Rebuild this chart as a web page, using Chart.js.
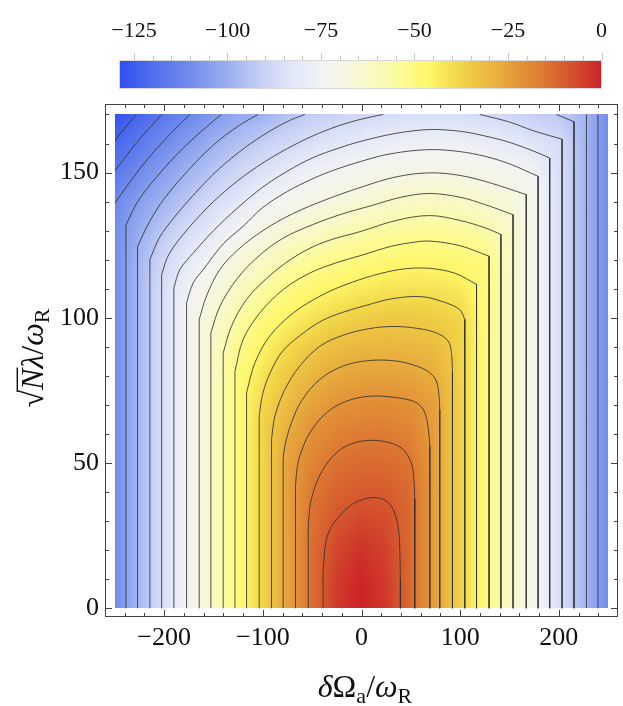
<!DOCTYPE html>
<html lang="en">
<head>
<meta charset="UTF-8">
<title>Density plot with contours</title>
<script src="https://cdn.jsdelivr.net/npm/chart.js"></script>
<style>
  html, body { margin: 0; padding: 0; background: #fff; }
  #wrap { position: relative; width: 623px; height: 706px; }
  #wrap canvas { position: absolute; left: 0; top: 0; }
</style>
</head>
<body>
<div id="wrap">
  <canvas id="mainChart" width="623" height="706"></canvas>
  <canvas id="barChart" width="623" height="100"></canvas>
</div>
<script>
// axis ticks
const xTicks = [-200, -100, 0, 100, 200];
const yTicks = [0, 50, 100, 150];
const cbarTicks = [-125, -100, -75, -50, -25, 0];
const cbarMin = -129;
const cbarMax = 0;

// surface values, one row per y
const gridX = [-250, -225, -200, -175, -150, -125, -100, -75, -50, -25, 0, 25, 50, 75, 100, 125, 150, 175, 200, 225, 250];
const gridY = [0, 10, 20, 30, 40, 50, 60, 70, 80, 90, 100, 110, 120, 130, 140, 150, 160, 170];
const zY0   = [-110, -97.7, -85.6, -73.4, -61.4, -49.2, -37.1, -24.9, -13.4, -3.7, 0, -3.7, -13, -24.5, -36.7, -49, -61.3, -73, -85.4, -97.6, -110];
const zY10  = [-110, -97.7, -85.6, -73.4, -61.4, -49.2, -37.1, -24.9, -13.4, -4.3, -0.6, -4.1, -13, -24.5, -36.7, -49, -61.3, -73, -85.4, -97.6, -110];
const zY20  = [-110, -97.7, -85.6, -73.4, -61.4, -49.2, -37.1, -24.9, -13.4, -5.9, -2.6, -5.3, -13, -24.5, -36.7, -49, -61.3, -73, -85.4, -97.6, -110];
const zY30  = [-110, -97.7, -85.6, -73.4, -61.4, -49.2, -37.1, -24.9, -14.3, -8.7, -5.8, -7.2, -13, -24.5, -36.7, -49, -61.3, -73, -85.4, -97.6, -110];
const zY40  = [-110, -97.7, -85.6, -73.4, -61.4, -49.2, -37.1, -24.9, -15.4, -11.5, -9.8, -9.9, -13, -24.5, -36.7, -49, -61.3, -73, -85.4, -97.6, -110];
const zY50  = [-110, -97.7, -85.6, -73.4, -61.4, -49.2, -37.1, -24.9, -18, -14.1, -12.9, -12.9, -14.9, -24.5, -36.7, -49, -61.3, -73, -85.4, -97.6, -110];
const zY60  = [-110, -97.7, -85.6, -73.4, -61.4, -49.2, -37.1, -27.2, -20.6, -17.5, -16.2, -16.1, -17.8, -24.5, -36.7, -49, -61.3, -73, -85.4, -97.6, -110];
const zY70  = [-110, -97.7, -85.6, -73.4, -61.4, -49.2, -38.2, -30.7, -24.6, -21.3, -20.2, -20, -20.7, -24.5, -36.7, -49, -61.3, -73, -85.4, -97.6, -110];
const zY80  = [-110, -97.7, -85.6, -73.4, -61.4, -49.2, -41.3, -34.5, -29.2, -26, -24.8, -24.5, -25.2, -27.5, -36.7, -49, -61.3, -73, -85.4, -97.6, -110];
const zY90  = [-110, -97.7, -85.6, -73.4, -61.4, -52.6, -45.3, -39, -34.6, -31.1, -29.8, -29.4, -29.8, -31.2, -36.7, -49, -61.3, -73, -85.4, -97.6, -110];
const zY100 = [-110, -97.7, -85.6, -73.4, -64, -56.5, -49.8, -45.2, -41.2, -38.1, -36, -35, -34.8, -35.7, -37.9, -49, -61.3, -73, -85.4, -97.6, -110];
const zY110 = [-110, -97.7, -85.6, -76.2, -68.1, -61.2, -55.5, -50.7, -47.5, -45, -42.9, -41.5, -40.8, -41.2, -42.8, -49, -61.3, -73, -85.4, -97.6, -110];
const zY120 = [-110, -97.7, -88.3, -80.8, -74.3, -66.8, -61.6, -57.2, -54, -51.7, -49.9, -48.1, -47.1, -47.1, -48.2, -49.7, -61.3, -73, -85.4, -97.6, -110];
const zY130 = [-110, -100.3, -93.1, -86.4, -81, -75, -69, -64.7, -61.5, -59.1, -57.1, -55.3, -54, -53.7, -54.6, -56.4, -61.3, -73, -85.4, -97.6, -110];
const zY140 = [-111.3, -104.6, -98.5, -92.7, -87, -82.3, -76.7, -72.6, -69.9, -67.3, -64.9, -63, -61.5, -60.9, -61.8, -63.8, -65.9, -73, -85.4, -97.6, -110];
const zY150 = [-116.7, -110.3, -104.1, -98.4, -93.3, -88.7, -84.6, -80.6, -76.8, -74.2, -72.4, -70.8, -69.7, -69.2, -69.7, -71.1, -72.9, -75.3, -85.4, -97.6, -110];
const zY160 = [-122.4, -116.1, -110.3, -104.8, -99.4, -95.1, -91.2, -88.1, -85, -82.4, -80.3, -78.6, -77.4, -76.9, -77.4, -78.8, -80.7, -83.3, -86.5, -97.6, -110];
const zY170 = [-128.2, -122.1, -116.7, -111.3, -106.7, -101.6, -99.4, -94.5, -92.3, -90.1, -88.2, -86.9, -85.8, -85.7, -86.1, -87.3, -89, -91.4, -93, -97.6, -110];
const gridZ = [zY0, zY10, zY20, zY30, zY40, zY50, zY60, zY70, zY80, zY90, zY100, zY110, zY120, zY130, zY140, zY150, zY160, zY170];

// contour lines (levels -9, -15, ... -123), null = the line leaves the plot
const c09 = [[-38.9,0],[-38.9,12],[-37.6,19],[-35.5,23.8],[-31,27.8],[-25.3,30.6],[-12,35.2],[1.6,37.5],[15,38.1],[25.2,36.9],[32,34.1],[37,28.3],[38.8,20.3],[39.4,10],[39.4,0]];
const c15 = [[-54,0],[-54,27.3],[-53,32.5],[-50.8,37.6],[-42.4,45.6],[-28.9,52.4],[-12,56.4],[8.2,57.8],[28.5,57],[42,54.7],[50.4,50.1],[53.1,44.4],[54,37.6],[54,0]];
const c21 = [[-66.9,0],[-66.9,42],[-65.5,47.5],[-62.5,52.4],[-52.4,60.4],[-35.5,67.3],[-15.2,71.3],[8.4,73],[35.5,72.5],[55.7,70.8],[64.2,67.3],[68.2,60.4],[69.2,55.9],[69.2,0]];
const c27 = [[-79.4,0],[-79.4,51.3],[-77.7,55.9],[-71,63.9],[-60.8,71.4],[-42.2,78.8],[-18.6,83.4],[8.4,85.3],[35.5,85.1],[55.7,83.4],[69.2,81.1],[75.9,78.2],[78.6,73],[79.3,68.4],[79.3,0]];
const c33 = [[-91.2,0],[-91.2,58.1],[-87.8,66.1],[-77.7,75.3],[-62.5,83.4],[-42.2,90.2],[-18.6,94],[8.4,96.3],[32,97],[55.7,96.4],[75.9,94.8],[87.8,92],[91.1,88],[92.2,81.1],[92.2,0]];
const c39 = [[-103.7,0],[-103.7,66.2],[-100,74],[-92,81.5],[-80,88.5],[-62,94],[-40,99],[-18,102],[5,104.3],[30,106.5],[60,107.3],[82.7,105.5],[99.6,102.8],[104.7,99.4],[104.7,0]];
const c45 = [[-116.5,0],[-116.5,74.2],[-108,84.5],[-93,93.7],[-69,101.7],[-39,108],[-9,112.3],[20,115.3],[45,116.9],[70,117],[95,115.3],[116.6,111.5],[116.6,0]];
const c51 = [[-128.3,0],[-128.3,81.5],[-120,92.5],[-103,101.7],[-79.4,109.7],[-52.4,115.4],[-25,119],[0,121.5],[30,124.6],[55,126.1],[70,126.4],[100,124.8],[129.3,121.2],[129.3,0]];
const c57 = [[-140.2,0],[-140.2,87.9],[-131.8,97.1],[-116.6,106.3],[-96.3,113.5],[-70,120.5],[-40,125.8],[0,129.8],[35,133.5],[69,135.2],[100,133.5],[125,131],[141.3,128.7],[141.3,0]];
const c63 = [[-152.7,0],[-152.7,94.8],[-143.6,103.9],[-126.7,113.2],[-105,121],[-80,127.3],[-50,132],[-20,135.7],[10,138.6],[40,141.5],[69,142.8],[100,141.5],[125,139],[153.6,135.5],[153.6,0]];
const c69 = [[-164.5,0],[-164.5,99.4],[-157.1,107.5],[-143.6,116.6],[-125,123.5],[-100,130],[-70,135.8],[-35,140.8],[0,145],[35,148.5],[69,149.9],[100,149],[130,146.5],[167,142.4],[167,0]];
const c75 = [[-177.3,0],[-177.3,105.2],[-170.6,112],[-160.4,116.6],[-140,125.5],[-120,131.5],[-100,138],[-75,143.5],[-50,147.8],[-25,151.2],[0,153.9],[30,156.5],[69,157.9],[100,157.2],[125,155.6],[150,153],[179,148.7],[179,0]];
const c81 = [[-190.2,0],[-190.2,110.3],[-184.1,116.6],[-170,122.5],[-150,130],[-125,138],[-100,145],[-75,150.5],[-50,155],[-25,158.2],[0,160.8],[35,163.5],[69,164.8],[100,164.2],[125,162.6],[150,160.4],[175,157.3],[190.8,155],[190.8,0]];
const c87 = [[-202.6,0],[-202.6,114.9],[-195,122],[-175,131],[-150,140],[-125,147.3],[-100,153.3],[-75,158.3],[-50,162.5],[-25,165.9],[0,168.4],[22,170],null,[120,170],[150,167.4],[175,164.3],[203.3,161.5],[203.3,0]];
const c93 = [[-214.5,0],[-214.5,120],[-205,127.5],[-190,134.5],[-175,140.5],[-150,149.5],[-125,156.8],[-100,162.8],[-75,167.6],[-57.5,170],null,[197.5,170],[215.4,167.5],[215.4,0]];
const c99 = [[-227,0],[-227,124.6],[-215,133],[-200,141],[-175,151],[-150,159.5],[-125,166],[-105,170],null,[228,170],[228,0]];
const c105 = [[-238.8,0],[-238.8,132],[-225,141],[-200,151.5],[-175,160.3],[-150,167.8],[-142,170],null,[239.7,170],[239.7,0]];
const c111 = [[-250,139.5],[-225,151.2],[-200,161.1],[-174,170]];
const c117 = [[-250,150.6],[-225,161.5],[-202.5,170]];
const c123 = [[-250,161],[-238,166.1],[-228,170]];
const contourPaths = [c09, c15, c21, c27, c33, c39, c45, c51, c57, c63, c69, c75, c81, c87, c93, c99, c105, c111, c117, c123];

// colour scale stops
const cmapValues = [-129, -120, -110, -100, -90, -82, -75, -68, -60, -52, -46, -38, -28, -18, -8, 0];
const cmapColors = [
  [46, 78, 238], [80, 110, 237], [114, 140, 236], [155, 174, 240], [203, 212, 246], [228, 232, 248],
  [242, 243, 243], [246, 246, 224], [249, 249, 190], [253, 251, 140], [254, 246, 105], [242, 214, 72],
  [232, 176, 62], [224, 132, 52], [212, 82, 45], [204, 34, 40]
];

const SERIF = "'Liberation Serif', 'DejaVu Serif', serif";
const fmt = v => (v < 0 ? '\u2212' + Math.abs(v) : String(v));

function colorFor(v) {
  if (v <= cmapValues[0]) return cmapColors[0];
  for (let k = 1; k < cmapValues.length; k++) {
    if (v <= cmapValues[k]) {
      const t = (v - cmapValues[k - 1]) / (cmapValues[k] - cmapValues[k - 1]);
      const a = cmapColors[k - 1], b = cmapColors[k];
      return [a[0] + (b[0] - a[0]) * t, a[1] + (b[1] - a[1]) * t, a[2] + (b[2] - a[2]) * t];
    }
  }
  return cmapColors[cmapColors.length - 1];
}

function sampleGrid(xv, yv) {
  let i = 0;
  while (i < gridX.length - 2 && xv > gridX[i + 1]) i++;
  let j = 0;
  while (j < gridY.length - 2 && yv > gridY[j + 1]) j++;
  const tx = Math.min(1, Math.max(0, (xv - gridX[i]) / (gridX[i + 1] - gridX[i])));
  const ty = Math.min(1, Math.max(0, (yv - gridY[j]) / (gridY[j + 1] - gridY[j])));
  const r0 = gridZ[j], r1 = gridZ[j + 1];
  const a = r0[i] + (r0[i + 1] - r0[i]) * tx;
  const b = r1[i] + (r1[i + 1] - r1[i]) * tx;
  return a + (b - a) * ty;
}

// density image, drawn under the contour lines
const densityPlugin = {
  id: 'density',
  beforeDatasetsDraw(chart) {
    const ctx = chart.ctx, xs = chart.scales.x, ys = chart.scales.y;
    const x0 = Math.round(xs.getPixelForValue(gridX[0]));
    const x1 = Math.round(xs.getPixelForValue(gridX[gridX.length - 1]));
    const y0 = Math.round(ys.getPixelForValue(gridY[gridY.length - 1]));
    const y1 = Math.round(ys.getPixelForValue(gridY[0]));
    const w = x1 - x0, h = y1 - y0;
    const off = document.createElement('canvas');
    off.width = w; off.height = h;
    const octx = off.getContext('2d');
    const img = octx.createImageData(w, h);
    const xv = [];
    for (let i = 0; i < w; i++) xv.push(xs.getValueForPixel(x0 + i + 0.5));
    for (let j = 0; j < h; j++) {
      const yv = ys.getValueForPixel(y0 + j + 0.5);
      for (let i = 0; i < w; i++) {
        const c = colorFor(sampleGrid(xv[i], yv));
        const p = (j * w + i) * 4;
        img.data[p] = c[0]; img.data[p + 1] = c[1]; img.data[p + 2] = c[2]; img.data[p + 3] = 255;
      }
    }
    octx.putImageData(img, 0, 0);
    ctx.drawImage(off, x0, y0);
  }
};

// frame with inward ticks on all four sides, plus the axis titles
const framePlugin = {
  id: 'frame',
  afterDraw(chart) {
    const ctx = chart.ctx, xs = chart.scales.x, ys = chart.scales.y;
    const { left, right, top, bottom } = chart.chartArea;
    ctx.save();
    ctx.strokeStyle = '#444';
    ctx.lineWidth = 1;
    ctx.strokeRect(left + 0.5, top + 0.5, right - left - 1, bottom - top - 1);
    ctx.beginPath();
    for (let v = -240; v <= 240; v += 20) {
      const len = v % 100 === 0 ? 7 : 4;
      const px = Math.round(xs.getPixelForValue(v)) + 0.5;
      ctx.moveTo(px, bottom); ctx.lineTo(px, bottom - len);
      ctx.moveTo(px, top); ctx.lineTo(px, top + len);
    }
    for (let v = 0; v <= 170; v += 10) {
      const len = v % 50 === 0 ? 7 : 4;
      const py = Math.round(ys.getPixelForValue(v)) + 0.5;
      ctx.moveTo(left, py); ctx.lineTo(left + len, py);
      ctx.moveTo(right, py); ctx.lineTo(right - len, py);
    }
    ctx.stroke();

    ctx.fillStyle = '#111';
    ctx.textBaseline = 'alphabetic';
    const big = '32px ' + SERIF, ital = 'italic 32px ' + SERIF, sub = '22px ' + SERIF;
    const xt = [['\u03B4', ital, 0], ['\u03A9', big, 0], ['a', sub, 6], ['/', big, 0], ['\u03C9', ital, 0], ['R', sub, 6]];
    let total = 0;
    xt.forEach(p => { ctx.font = p[1]; total += ctx.measureText(p[0]).width; });
    let cx = 365 - total / 2;
    xt.forEach(p => { ctx.font = p[1]; ctx.fillText(p[0], cx, 697 + p[2]); cx += ctx.measureText(p[0]).width; });

    ctx.translate(43, 358);
    ctx.rotate(-Math.PI / 2);
    const yt = [['\u221A', big, 0], ['N', ital, 0], ['\u03BB', ital, 0], ['/', big, 0], ['\u03C9', ital, 0], ['R', sub, 6]];
    total = 0;
    yt.forEach(p => { ctx.font = p[1]; total += ctx.measureText(p[0]).width; });
    cx = -total / 2;
    yt.forEach((p, k) => {
      ctx.font = p[1];
      const wdt = ctx.measureText(p[0]).width;
      ctx.fillText(p[0], cx, p[2]);
      if (k === 1) {
        ctx.beginPath();
        ctx.lineWidth = 1.4;
        ctx.strokeStyle = '#111';
        ctx.moveTo(cx - 2, -25.7); ctx.lineTo(cx + wdt + 1, -25.7);
        ctx.stroke();
      }
      cx += wdt;
    });
    ctx.restore();
  }
};

// each contour: straight vertical legs, curved top
const contourDatasets = [];
function addLine(points, tension) {
  if (points.length < 2) return;
  contourDatasets.push({
    data: points, showLine: true, fill: false, tension: tension,
    borderColor: 'rgba(50,50,50,0.85)', borderWidth: 1,
    pointRadius: 0, pointHoverRadius: 0
  });
}
function addSegment(seg) {
  let a = 0, b = seg.length - 1;
  if (seg.length > 2 && seg[0].x === seg[1].x) { addLine([seg[0], seg[1]], 0); a = 1; }
  if (seg.length > 2 && seg[b].x === seg[b - 1].x) { addLine([seg[b - 1], seg[b]], 0); b = b - 1; }
  addLine(seg.slice(a, b + 1), 0.35);
}
contourPaths.forEach(path => {
  let seg = [];
  path.forEach(p => {
    if (p === null) { addSegment(seg); seg = []; }
    else seg.push({ x: p[0], y: p[1] });
  });
  addSegment(seg);
});

const tickFont = { family: SERIF, size: 26 };

new Chart(document.getElementById('mainChart'), {
  type: 'scatter',
  data: { datasets: contourDatasets },
  options: {
    responsive: false,
    animation: false,
    events: [],
    layout: { padding: { top: 104, right: 5, bottom: 0, left: 0 } },
    plugins: { legend: { display: false }, tooltip: { enabled: false } },
    scales: {
      x: {
        type: 'linear', min: -260, max: 260,
        grid: { display: false, drawTicks: false }, border: { display: false },
        afterBuildTicks: axis => { axis.ticks = xTicks.map(v => ({ value: v })); },
        afterFit: axis => { axis.height = 89; },
        ticks: { padding: 6, color: '#111', font: tickFont, maxRotation: 0, autoSkip: false, callback: v => fmt(v) }
      },
      y: {
        type: 'linear', min: -3, max: 173.6,
        grid: { display: false, drawTicks: false }, border: { display: false },
        afterBuildTicks: axis => { axis.ticks = yTicks.map(v => ({ value: v })); },
        afterFit: axis => { axis.width = 105; },
        ticks: { padding: 6, color: '#111', font: tickFont, autoSkip: false, callback: v => fmt(v) }
      }
    }
  },
  plugins: [densityPlugin, framePlugin]
});

// colour bar, drawn through its own value scale
const barPlugin = {
  id: 'colorbar',
  beforeDatasetsDraw(chart) {
    const ctx = chart.ctx, xs = chart.scales.x;
    const { left, right, top, bottom } = chart.chartArea;
    for (let px = Math.floor(left); px < Math.ceil(right); px++) {
      const c = colorFor(xs.getValueForPixel(px + 0.5));
      ctx.fillStyle = 'rgb(' + c.map(Math.round).join(',') + ')';
      ctx.fillRect(px, top, 1, bottom - top);
    }
    ctx.strokeStyle = '#d8d8d8';
    ctx.lineWidth = 1;
    ctx.strokeRect(Math.floor(left) + 0.5, top + 0.5, Math.ceil(right) - Math.floor(left) - 1, bottom - top - 1);
    ctx.beginPath();
    ctx.strokeStyle = '#c4c4c4';
    for (let v = -125; v <= 0; v += 5) {
      const len = cbarTicks.includes(v) ? 7 : 4;
      const px = Math.round(xs.getPixelForValue(v)) + 0.5;
      ctx.moveTo(px, top); ctx.lineTo(px, top - len);
    }
    ctx.stroke();
  }
};

new Chart(document.getElementById('barChart'), {
  type: 'scatter',
  data: { datasets: [] },
  options: {
    responsive: false,
    animation: false,
    events: [],
    layout: { padding: { top: 0, right: 18, bottom: 11, left: 119 } },
    plugins: { legend: { display: false }, tooltip: { enabled: false } },
    scales: {
      x: {
        type: 'linear', position: 'top', min: cbarMin, max: cbarMax,
        grid: { display: false, drawTicks: false }, border: { display: false },
        afterBuildTicks: axis => { axis.ticks = cbarTicks.map(v => ({ value: v })); },
        afterFit: axis => { axis.height = 60; },
        ticks: { padding: 16, color: '#111', font: { family: SERIF, size: 22 }, maxRotation: 0, autoSkip: false, callback: v => fmt(v) }
      },
      y: { display: false, min: 0, max: 1 }
    }
  },
  plugins: [barPlugin]
});
</script>
</body>
</html>
